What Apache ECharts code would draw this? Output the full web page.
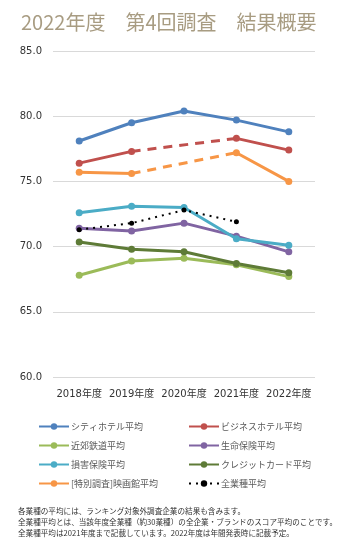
<!DOCTYPE html>
<html><head><meta charset="utf-8">
<script src="https://cdn.jsdelivr.net/npm/echarts@6/dist/echarts.min.js"></script>
<style>html,body{margin:0;padding:0;background:#fff}#c{width:360px;height:546px}</style>
</head><body><div id="c"></div>
<script>
var categories = ['2018年度','2019年度','2020年度','2021年度','2022年度'];
var yTicks = [60, 65, 70, 75, 80, 85];
var cityHotel = [78.1, 79.5, 80.4, 79.7, 78.8];
var businessHotel = [76.4, 77.3, null, 78.3, 77.4];
var suburbanRail = [67.8, 68.9, 69.1, 68.6, 67.7];
var lifeInsurance = [71.4, 71.2, 71.8, 70.8, 69.6];
var damageInsurance = [72.6, 73.1, 73.0, 70.6, 70.1];
var creditCard = [70.35, 69.8, 69.6, 68.7, 68.0];
var cinema = [75.7, 75.6, null, 77.2, 75.0];
var allIndustry = [71.3, 71.8, 72.8, 71.9, null];
var title = '2022年度　第4回調査　結果概要';
var notes = [
  '各業種の平均には、ランキング対象外調査企業の結果も含みます。',
  '全業種平均とは、当該年度全業種（約30業種）の全企業・ブランドのスコア平均のことです。',
  '全業種平均は2021年度まで記載しています。2022年度は年間発表時に記載予定。'
];

var FONT = 'DejaVu Sans, "Noto Sans CJK JP", sans-serif';
var JP = '"Noto Sans CJK JP", sans-serif';

function gapOnly(arr) {
  var out = arr.map(function(){ return null; });
  for (var i = 0; i < arr.length; i++) {
    if (arr[i] === null && i > 0 && i < arr.length - 1) {
      out[i-1] = arr[i-1]; out[i+1] = arr[i+1];
    }
  }
  return out;
}

function solid(name, data, color, z) {
  return {
    name: name, type: 'line', data: data, z: z || 2,
    symbol: 'circle', symbolSize: 7, connectNulls: false,
    itemStyle: { color: color },
    lineStyle: { color: color, width: 3 }
  };
}
function dashed(name, data, color) {
  return {
    name: name, type: 'line', data: gapOnly(data), connectNulls: true,
    symbol: 'none', silent: true,
    lineStyle: { color: color, width: 3, type: [9, 7] }
  };
}

var chart = echarts.init(document.getElementById('c'), null, { renderer: 'canvas' });
var legendText = { fontSize: 9, color: '#595959', fontFamily: JP, padding: [0, 0, 0, -3] };
chart.setOption({
  backgroundColor: '#fff',
  animation: false,
  title: {
    text: title, left: 16, top: 7,
    textStyle: { fontSize: 20, fontWeight: 'normal', color: '#A89C82', fontFamily: JP }
  },
  grid: { left: 53, right: 45, top: 51, bottom: 169 },
  xAxis: {
    type: 'category', data: categories, boundaryGap: true,
    axisLine: { show: false }, axisTick: { show: false },
    axisLabel: { interval: 0, fontSize: 10, color: '#333', fontFamily: FONT, margin: 12 }
  },
  yAxis: {
    type: 'value', min: yTicks[0], max: yTicks[yTicks.length-1], interval: 5,
    axisLine: { show: false }, axisTick: { show: false },
    axisLabel: { fontSize: 10, color: '#333', fontFamily: FONT, margin: 11,
      formatter: function(v){ return v.toFixed(1); } },
    splitLine: { lineStyle: { color: '#d9d9d9', width: 1 } }
  },
  legend: [
    { left: 33, top: 417, orient: 'vertical', itemGap: 10, itemWidth: 30, itemHeight: 8,
      textStyle: legendText,
      data: ['シティホテル平均','近郊鉄道平均','損害保険平均','[特別調査]映画館平均'] },
    { left: 183, top: 417, orient: 'vertical', itemGap: 10, itemWidth: 30, itemHeight: 8,
      textStyle: legendText,
      data: ['ビジネスホテル平均','生命保険平均','クレジットカード平均','全業種平均'] }
  ],
  graphic: notes.map(function(t, i){
    return { type: 'text', left: 18, top: 507 + i * 11,
      style: { text: t, fontSize: 7.6, fill: '#333', fontFamily: JP } };
  }),
  series: [
    solid('シティホテル平均', cityHotel, '#4F81BD'),
    solid('ビジネスホテル平均', businessHotel, '#C0504D'),
    dashed('_biz_gap', businessHotel, '#C0504D'),
    solid('近郊鉄道平均', suburbanRail, '#9BBB59'),
    solid('生命保険平均', lifeInsurance, '#8064A2'),
    solid('損害保険平均', damageInsurance, '#4BACC6', 3),
    solid('クレジットカード平均', creditCard, '#5E7B37'),
    solid('[特別調査]映画館平均', cinema, '#F79646'),
    dashed('_cinema_gap', cinema, '#F79646'),
    {
      name: '全業種平均', type: 'line', data: allIndustry, z: 5,
      symbol: 'circle', symbolSize: 5,
      itemStyle: { color: '#000' },
      lineStyle: { color: '#000', width: 2, type: [2, 5] }
    }
  ]
});
</script></body></html>
